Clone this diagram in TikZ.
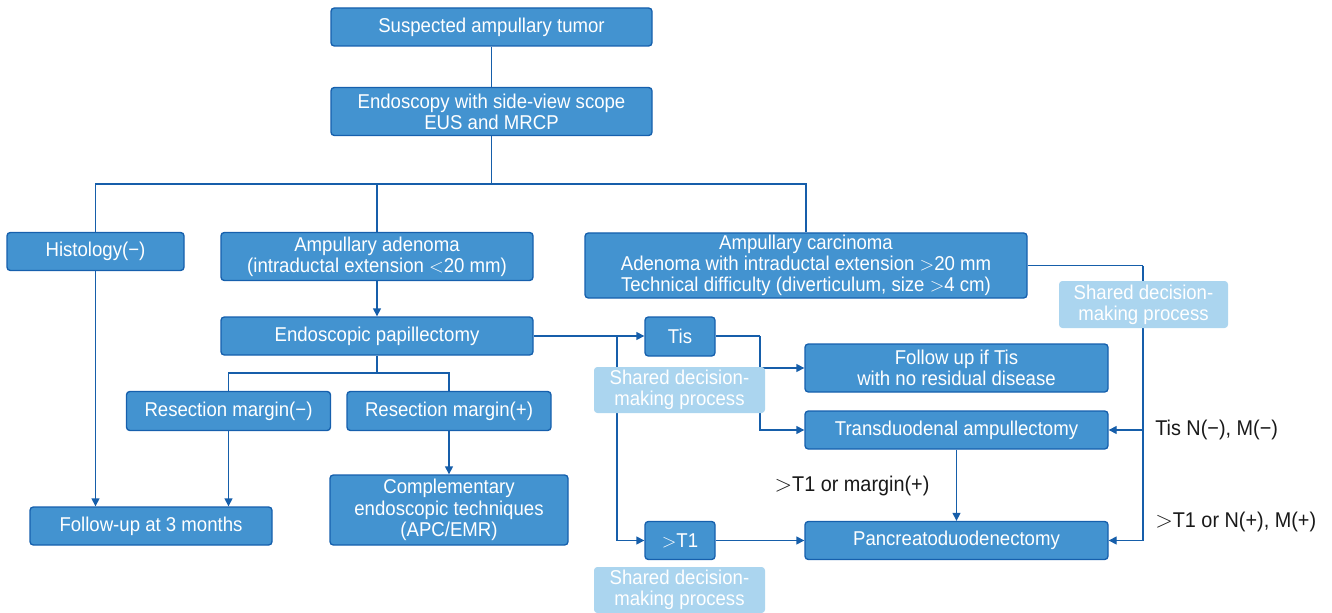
\documentclass[tikz,border=0pt]{standalone}
\usepackage{fontspec}
\setmainfont{Liberation Sans}[FakeStretch=0.93]
\usetikzlibrary{arrows.meta}
\definecolor{boxfill}{RGB}{67,147,208}
\definecolor{boxline}{RGB}{22,96,173}
\definecolor{linec}{RGB}{22,94,170}
\definecolor{lightfill}{RGB}{171,213,239}
\definecolor{lbl}{RGB}{25,25,25}
\newcommand{\GTs}{\ensuremath{>}}
\newcommand{\LTs}{\ensuremath{<}}
\begin{document}
\begin{tikzpicture}[x=0.75pt,y=-0.75pt,
  sz/.style 2 args={minimum width=#1*0.75pt, minimum height=#2*0.75pt},
  box/.style={draw=boxline, line width=1pt, fill=boxfill, rounded corners=2.5pt, text=white,
    align=center, inner sep=0pt, font=\fontsize{15}{15.9}\selectfont},
  lightbox/.style={fill=lightfill, rounded corners=2.5pt, text=white,
    align=center, inner sep=0pt, font=\fontsize{15}{15.9}\selectfont},
  lab/.style={text=lbl, inner sep=0pt, font=\fontsize{16}{17}\selectfont},
  conn/.style={draw=linec, line width=1pt},
  arr/.style={conn, -{Triangle[length=6pt, width=6pt]}}
]
\useasboundingbox (0,0) rectangle (1332,613);

% main boxes
\node[box, sz={321}{38}] (sus) at (491.5,27) {Suspected ampullary tumor};
\node[box, sz={321}{48}] (endo) at (491.5,111.5) {Endoscopy with side-view scope\\EUS and MRCP};
\node[box, sz={177}{38}] (hist) at (95.5,251.5) {Histology(−)};
\node[box, sz={312}{48}] (aden) at (377,256.5) {Ampullary adenoma\\(intraductal extension \LTs20 mm)};
\node[box, sz={442}{65}] (carc) at (806,265.5) {Ampullary carcinoma\\Adenoma with intraductal extension \GTs20 mm\\Technical difficulty (diverticulum, size \GTs4 cm)};
\node[box, sz={312}{38}] (papi) at (377,336) {Endoscopic papillectomy};
\node[box, sz={204}{39}] (rm) at (228.5,411) {Resection margin(−)};
\node[box, sz={204}{39}] (rp) at (449,411) {Resection margin(+)};
\node[box, sz={242}{38}] (fu3) at (151,526) {Follow-up at 3 months};
\node[box, sz={238}{70}] (comp) at (449,510) {Complementary\\endoscopic techniques\\(APC/EMR)};
\node[box, sz={70}{39}] (tis) at (680,336.5) {Tis};
\node[box, sz={70}{38}] (gt1) at (680,540.5) {\GTs T1};
\node[box, sz={303}{48}] (fut) at (956.5,368) {Follow up if Tis\\with no residual disease};
\node[box, sz={303}{38}] (trans) at (956.5,430) {Transduodenal ampullectomy};
\node[box, sz={303}{38}] (panc) at (956.5,540.5) {Pancreatoduodenectomy};

% labels
\node[lab, anchor=west] (ltis) at (1155,430) {Tis N(−), M(−)};
\node[lab, anchor=west] (lgtn) at (1155,522) {\GTs T1 or N(+), M(+)};
\node[lab] (lgtm) at (852,486) {\GTs T1 or margin(+)};

% junctions
\coordinate (j0) at (491.5,184);
\coordinate (j1) at (377,373);
\coordinate (j2) at (617,336);
\coordinate (j3) at (760,336);
\coordinate (j4) at (1143,265.5);

% connectors
\draw[conn] (sus.south) -- (endo.north);
\draw[conn] (endo.south) -- (j0);
\draw[conn] (hist.north) -- (hist.north |- j0) -- (carc.north |- j0) -- (carc.north);
\draw[conn] (aden.north) -- (aden.north |- j0);
\draw[arr] (aden.south) -- (papi.north);
\draw[conn] (papi.south) -- (j1);
\draw[conn] (rm.north) -- (rm.north |- j1) -- (rp.north |- j1) -- (rp.north);
\draw[arr] (rp.south) -- (rp.south |- comp.north);
\draw[arr] (rm.south) -- (rm.south |- fu3.north);
\draw[arr] (hist.south) -- (hist.south |- fu3.north);
\draw[arr] (papi.east) -- (papi.east -| tis.west);
\draw[arr] (j2) |- (gt1.west);
\draw[conn] (tis.east |- j3) -- (j3);
\draw[arr] (j3) |- (trans.west);
\draw[arr] (j3 |- fut.west) -- (fut.west);
\draw[arr] (trans.south) -- (panc.north);
\draw[arr] (gt1.east) -- (gt1.east -| panc.west);
\draw[conn] (carc.east |- j4) -- (j4);
\draw[arr] (j4) |- (panc.east);
\draw[arr] (j4 |- trans.east) -- (trans.east);

% shared decision boxes (drawn over lines)
\node[lightbox, sz={171}{46}] (sd1) at (679.5,390) {Shared decision-\\making process};
\node[lightbox, sz={171}{46}] (sd2) at (679.5,590) {Shared decision-\\making process};
\node[lightbox, sz={169}{47}] (sd3) at (1143.5,304.5) {Shared decision-\\making process};
\end{tikzpicture}
\end{document}
